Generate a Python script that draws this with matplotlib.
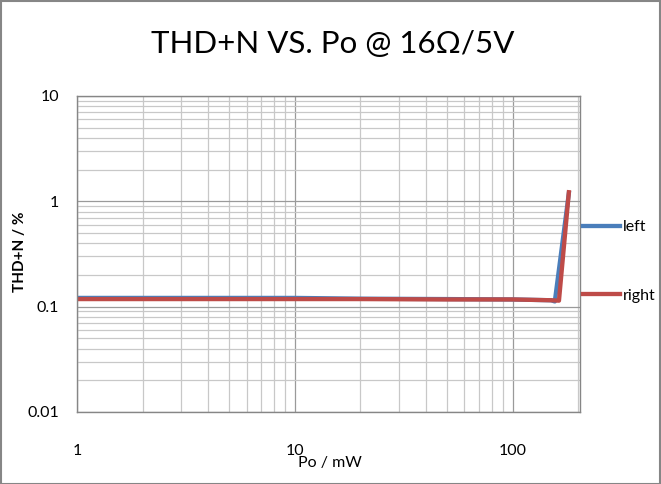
import matplotlib
matplotlib.use("Agg")
import matplotlib.pyplot as plt
from matplotlib.ticker import LogLocator, FixedLocator, NullFormatter
from matplotlib.patches import Rectangle

plt.rcParams['font.family'] = ['Lato', 'DejaVu Sans']

# data
left_x = [1, 2, 5, 10, 20, 50, 100, 150, 156, 181]
left_y = [0.121, 0.121, 0.121, 0.121, 0.119, 0.118, 0.117, 0.115, 0.112, 1.2]
right_x = [1, 2, 5, 10, 20, 50, 100, 150, 163, 181]
right_y = [0.118, 0.118, 0.118, 0.118, 0.118, 0.117, 0.117, 0.115, 0.114, 1.22]

title = "THD+N VS. Po @ 16\u03a9/5V"
xlabel = "Po / mW"
ylabel = "THD+N / %"
xticks = [1, 10, 100]
xticklabels = ["1", "10", "100"]
yticks = [0.01, 0.1, 1, 10]
yticklabels = ["0.01", "0.1", "1", "10"]

fig = plt.figure(figsize=(6.61, 4.84), dpi=100)
ax = fig.add_axes([0.1165, 0.1488, 0.7605, 0.6529])

ax.plot(left_x, left_y, color='#4A7EBB', lw=3.1, label='left', solid_joinstyle='round')
ax.plot(right_x, right_y, color='#BE4B48', lw=3.1, label='right', solid_joinstyle='round')

ax.set_xscale('log')
ax.set_yscale('log')
ax.set_xlim(1, 10 ** (503 / 218))
ax.set_ylim(0.01, 10)

ax.xaxis.set_major_locator(FixedLocator(xticks))
ax.set_xticklabels(xticklabels)
ax.yaxis.set_major_locator(FixedLocator(yticks))
ax.set_yticklabels(yticklabels)
ax.xaxis.set_minor_locator(LogLocator(base=10, subs=range(2, 10), numticks=20))
ax.yaxis.set_minor_locator(LogLocator(base=10, subs=range(2, 10), numticks=20))
ax.xaxis.set_minor_formatter(NullFormatter())
ax.yaxis.set_minor_formatter(NullFormatter())

ax.grid(True, which='major', color='#9A9A9A', lw=0.9)
ax.grid(True, which='minor', color='#C8C8C8', lw=0.9)
ax.set_axisbelow(True)
for s in ax.spines.values():
    s.set_color('#868686')
    s.set_linewidth(1.0)
ax.tick_params(which='both', length=0)
ax.tick_params(axis='x', labelsize=11.5, pad=23)
ax.tick_params(axis='y', labelsize=11.5, pad=13)

fig.text(0.504, 0.909, title, ha='center', va='center', fontsize=22.5)
fig.text(0.499, 0.043, xlabel, ha='center', va='center', fontsize=11.5)
fig.text(0.03, 0.48, ylabel, ha='center', va='center', rotation=90, fontsize=11, fontweight='bold')

fig.legend(handles=ax.get_lines(), loc='center left', bbox_to_anchor=(583 / 661, 1 - 261.5 / 484),
           frameon=False, fontsize=11.5, handlelength=2.3, handletextpad=0.2,
           labelspacing=3.4, borderpad=0, borderaxespad=0)

fig.patches.append(Rectangle((0.001, 0.001), 0.997, 0.997, transform=fig.transFigure,
                             fill=False, edgecolor='#868686', lw=1.5))

fig.savefig('out.png', dpi=100)
